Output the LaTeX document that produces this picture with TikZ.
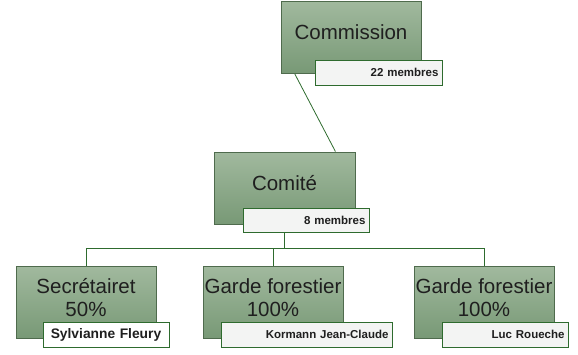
\documentclass[tikz,border=0pt]{standalone}
\usepackage{fontspec}
\setmainfont{Liberation Sans}
\usetikzlibrary{backgrounds}
\definecolor{boxtop}{HTML}{A1B99E}
\definecolor{boxbot}{HTML}{789976}
\definecolor{boxline}{HTML}{4F6B4D}
\definecolor{linkgreen}{HTML}{2E6B2E}
\definecolor{labfill}{HTML}{F3F4F3}
\tikzset{
  role/.style={draw=boxline, line width=0.9pt, top color=boxtop, bottom color=boxbot,
    minimum width=140pt, minimum height=72pt, inner sep=0pt},
  roletext/.style={inner sep=0pt, align=center, font=\fontsize{20.5}{23}\selectfont, text=black!88},
  tag/.style={draw=linkgreen, line width=0.9pt, fill=labfill, minimum height=25pt,
    inner sep=0pt, font=\fontsize{11.5}{13}\selectfont\bfseries, text=black!88}
}
\tikzset{link/.style={draw=linkgreen, line width=0.8pt}}
\begin{document}
\begin{tikzpicture}[x=1pt,y=-1pt]
\useasboundingbox (0,0) rectangle (578,354);
\node[role] (comm) at (351,37) {};
\node[roletext] (commt) at ([yshift=5pt]comm.center) {Commission};
\node[tag, minimum width=127pt, text width=120pt, align=right] (m22) at (378.5,72.5) {22 membres};
\node[role, minimum width=141pt] (comite) at (284.5,188) {};
\node[roletext] (comitet) at ([yshift=5pt]comite.center) {Comité};
\node[tag, minimum width=126pt, minimum height=24pt, text width=119pt, align=right] (m8) at (306,220) {8 membres};
\node[role] (sec) at (86,302) {};
\node[roletext] (sect) at ([yshift=4pt]sec.center) {Secrétairet\\50\%};
\node[tag, fill=white, minimum width=126pt, text width=122pt, align=center, font=\fontsize{13.8}{15}\selectfont\bfseries] (sf) at (106,334.5) {Sylvianne Fleury};
\node[role] (g1) at (273,302) {};
\node[roletext] (g1t) at ([yshift=4pt]g1.center) {Garde forestier\\100\%};
\node[tag, minimum width=171pt, text width=164pt, align=right] (kj) at (306.5,334.5) {Kormann Jean-Claude};
\node[role] (g2) at (484,302) {};
\node[roletext] (g2t) at ([yshift=4pt]g2.center) {Garde forestier\\100\%};
\node[tag, minimum width=126pt, text width=119pt, align=right] (lr) at (505,334.5) {Luc Roueche};
\begin{pgfonlayer}{background}
\coordinate (busl) at (86,248);
\draw[link] ([xshift=14pt]comm.south west) -- ([xshift=-20pt]comite.north east);
\draw[link] (comite.south) -- (comite.south |- busl);
\draw[link] (sec.north) -- (sec.north |- busl) -| (g2.north);
\draw[link] (g1.north) -- (g1.north |- busl);
\end{pgfonlayer}
\end{tikzpicture}
\end{document}
